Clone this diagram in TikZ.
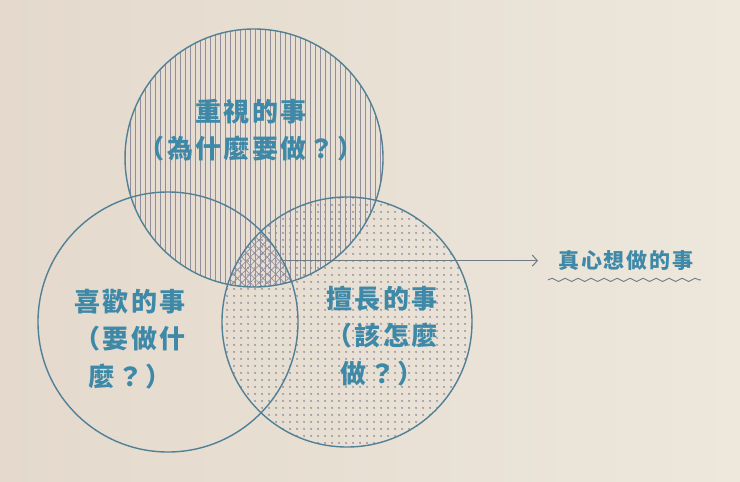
\documentclass[tikz,border=0pt]{standalone}
\usepackage{fontspec}
\usepackage{tikz}
\usetikzlibrary{arrows.meta,patterns.meta,positioning,decorations.pathmorphing}
\newfontfamily\cjk[LetterSpace=9]{Noto Sans CJK TC}
\definecolor{paper}{RGB}{237,231,220}
\definecolor{paperdark}{RGB}{228,217,204}
\definecolor{ink}{RGB}{82,128,150}
\definecolor{word}{RGB}{62,137,168}
\definecolor{grain}{RGB}{145,142,158}
\definecolor{pointer}{RGB}{112,122,132}

\begin{document}
\begin{tikzpicture}[x=10pt,y=10pt]
                    \tikzstyle{every node}+=[inner sep=0pt]
                    \tikzstyle{ring}=[draw=ink, line width=1.4pt, circle]
                    \tikzstyle{word}=[text=word, align=center, font=\cjk\bfseries\fontsize{26}{37.5}\selectfont]
                    \shade [left color=paperdark, right color=paper] (0,0) rectangle (74,-48.2);
                    \useasboundingbox (0,0) rectangle (74,-48.2);
                    \fill [pattern={Lines[angle=90,distance=5pt,line width=1pt]}, pattern color=grain] (25.4,-15.8) circle (12.9);
                    \fill [pattern={Dots[distance=6.5pt,radius=1.1pt]}, pattern color=grain] (34.7,-32.2) circle (12.5);
                    \begin{scope}
                    \clip (25.4,-15.8) circle (12.9);
                    \clip (34.7,-32.2) circle (12.5);
                    \fill [pattern={Hatch[angle=45,distance=6pt,line width=0.7pt]}, pattern color=grain] (16.8,-32.2) circle (13);
                    \end{scope}
                    \node [ring, minimum size=258pt] (T) at (25.4,-15.8) {};
                    \node [ring, minimum size=260pt] (L) at (16.8,-32.2) {};
                    \node [ring, minimum size=250pt] (R) at (34.7,-32.2) {};
                    \node [word] (Ttext) at (25.1,-13.0) {重視的事\\（為什麼要做？）};
                    \node [word] (Ltext) at (13.0,-33.9) {喜歡的事\\（要做什\\麼？）};
                    \node [word] (Rtext) at (38.2,-33.6) {擅長的事\\（該怎麼\\做？）};
                    \node [word, font=\cjk\bfseries\fontsize{21}{25}\selectfont, anchor=west, inner xsep=20pt, inner ysep=3pt] (goal) at (L.28 -| 53.8,0) {真心想做的事};
                    \draw [pointer, line width=1pt, -{Straight Barb[length=5pt,width=11pt]}] (L.28) -- (goal.west);
                    \draw [pointer, line width=0.9pt, decorate, decoration={snake, amplitude=1.6pt, segment length=13pt}] ([xshift=10pt,yshift=-6pt]goal.south west) -- ([xshift=-13pt,yshift=-6pt]goal.south east);
\end{tikzpicture}
\end{document}
